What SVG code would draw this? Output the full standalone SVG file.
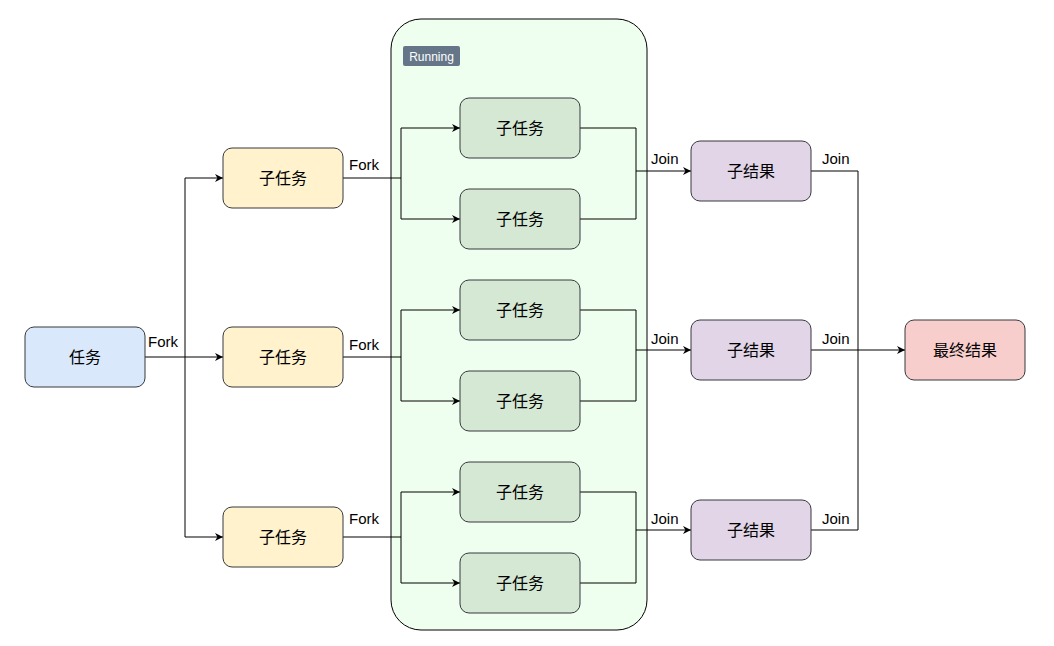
<svg xmlns="http://www.w3.org/2000/svg" width="1054" height="646" viewBox="0 0 1054 646">
<style>
.n{stroke:#36393d;stroke-width:1}
.t{font-family:"Noto Sans CJK SC","Liberation Sans",sans-serif;font-size:16px;fill:#000;text-anchor:middle;dominant-baseline:central}
.l{font-family:"Liberation Sans",sans-serif;font-size:15px;fill:#000}
.c{fill:none;stroke:#000;stroke-width:1}
</style>
<defs>
<marker id="a" viewBox="0 0 10 10" refX="10" refY="5" markerWidth="8" markerHeight="8" markerUnits="userSpaceOnUse" orient="auto">
<path d="M0,0 L10,5 L0,10 L3,5 Z" fill="#000"/>
</marker>
</defs>
<rect width="1054" height="646" fill="#fff"/>
<g id="container">
<rect x="391" y="19" width="256" height="611" rx="30" fill="#efffef" stroke="#000"/>
<rect x="403" y="46" width="57" height="20" rx="2" fill="#647687"/>
<text x="431.5" y="56.5" font-family="Liberation Sans,sans-serif" font-size="12" fill="#fff" text-anchor="middle" dominant-baseline="central">Running</text>
</g>
<g id="connectors">
<path class="c" d="M145,357 H185 V178 H223" marker-end="url(#a)"/>
<path class="c" d="M185,357 H223" marker-end="url(#a)"/>
<path class="c" d="M185,357 V537 H223" marker-end="url(#a)"/>
<path class="c" d="M343,178 H401 V128 H460" marker-end="url(#a)"/>
<path class="c" d="M401,178 V219 H460" marker-end="url(#a)"/>
<path class="c" d="M343,357 H401 V310 H460" marker-end="url(#a)"/>
<path class="c" d="M401,357 V401 H460" marker-end="url(#a)"/>
<path class="c" d="M343,537 H401 V492 H460" marker-end="url(#a)"/>
<path class="c" d="M401,537 V583 H460" marker-end="url(#a)"/>
<path class="c" d="M580,128 H636 V171 H691" marker-end="url(#a)"/>
<path class="c" d="M580,219 H636 V171"/>
<path class="c" d="M580,310 H636 V350 H691" marker-end="url(#a)"/>
<path class="c" d="M580,401 H636 V350"/>
<path class="c" d="M580,492 H636 V530 H691" marker-end="url(#a)"/>
<path class="c" d="M580,583 H636 V530"/>
<path class="c" d="M811,171 H858 V350 H905" marker-end="url(#a)"/>
<path class="c" d="M811,350 H858"/>
<path class="c" d="M811,530 H858 V350"/>
<text class="l" x="148" y="347">Fork</text>
<text class="l" x="349" y="170">Fork</text>
<text class="l" x="349" y="350">Fork</text>
<text class="l" x="349" y="524">Fork</text>
<text class="l" x="651" y="164">Join</text>
<text class="l" x="651" y="344">Join</text>
<text class="l" x="651" y="524">Join</text>
<text class="l" x="822" y="164">Join</text>
<text class="l" x="822" y="344">Join</text>
<text class="l" x="822" y="524">Join</text>
</g>
<g id="task"><rect class="n" x="25" y="327" width="120" height="60" rx="9" fill="#dae8fc"/><text class="t" x="85" y="356">任务</text></g>
<g id="sub1"><rect class="n" x="223" y="148" width="120" height="60" rx="9" fill="#fff2cc"/><text class="t" x="283" y="177">子任务</text></g>
<g id="sub2"><rect class="n" x="223" y="327" width="120" height="60" rx="9" fill="#fff2cc"/><text class="t" x="283" y="356">子任务</text></g>
<g id="sub3"><rect class="n" x="223" y="507" width="120" height="60" rx="9" fill="#fff2cc"/><text class="t" x="283" y="536">子任务</text></g>
<g id="g1"><rect class="n" x="460" y="98" width="120" height="60" rx="9" fill="#d5e8d4"/><text class="t" x="520" y="127">子任务</text></g>
<g id="g2"><rect class="n" x="460" y="189" width="120" height="60" rx="9" fill="#d5e8d4"/><text class="t" x="520" y="218">子任务</text></g>
<g id="g3"><rect class="n" x="460" y="280" width="120" height="60" rx="9" fill="#d5e8d4"/><text class="t" x="520" y="309">子任务</text></g>
<g id="g4"><rect class="n" x="460" y="371" width="120" height="60" rx="9" fill="#d5e8d4"/><text class="t" x="520" y="400">子任务</text></g>
<g id="g5"><rect class="n" x="460" y="462" width="120" height="60" rx="9" fill="#d5e8d4"/><text class="t" x="520" y="491">子任务</text></g>
<g id="g6"><rect class="n" x="460" y="553" width="120" height="60" rx="9" fill="#d5e8d4"/><text class="t" x="520" y="582">子任务</text></g>
<g id="r1"><rect class="n" x="691" y="141" width="120" height="60" rx="9" fill="#e1d5e7"/><text class="t" x="751" y="170">子结果</text></g>
<g id="r2"><rect class="n" x="691" y="320" width="120" height="60" rx="9" fill="#e1d5e7"/><text class="t" x="751" y="349">子结果</text></g>
<g id="r3"><rect class="n" x="691" y="500" width="120" height="60" rx="9" fill="#e1d5e7"/><text class="t" x="751" y="529">子结果</text></g>
<g id="final"><rect class="n" x="905" y="320" width="120" height="60" rx="9" fill="#f8cecc"/><text class="t" x="965" y="349">最终结果</text></g>
</svg>
